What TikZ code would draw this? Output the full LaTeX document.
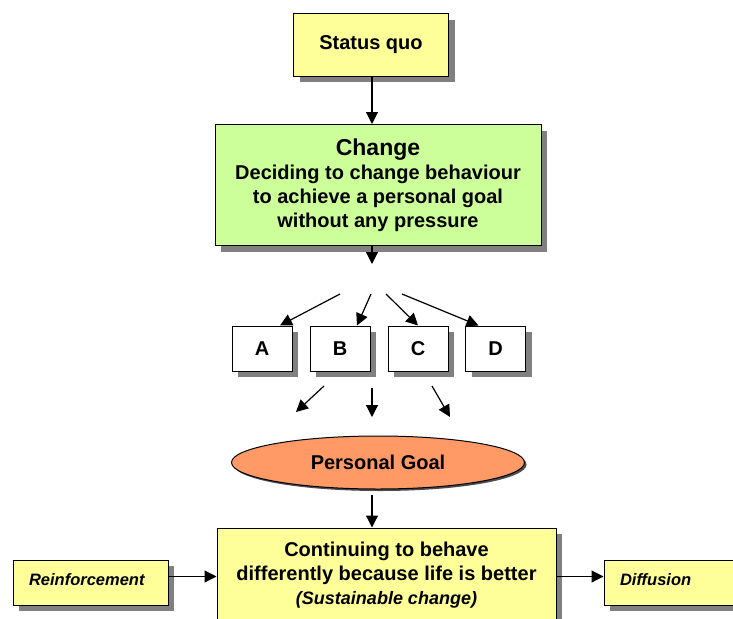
\documentclass[tikz,border=0pt]{standalone}
\usepackage{fontspec}
\setmainfont{Liberation Sans}
\usetikzlibrary{positioning, arrows.meta, calc, shapes.geometric, shadows}
\definecolor{QuoYellow}{HTML}{FFFF99}
\definecolor{ChangeGreen}{HTML}{CCFF99}
\definecolor{GoalOrange}{HTML}{FF9966}
\definecolor{ShadeGrey}{HTML}{808080}

\begin{document}
\begin{tikzpicture}[x=1pt, y=-1pt,
    stage/.style={draw=black, line width=1pt, fill=#1, inner sep=0pt, align=center,
      font=\bfseries\fontsize{20}{24}\selectfont,
      drop shadow={shadow xshift=6pt, shadow yshift=-6pt, fill=ShadeGrey, opacity=1}},
    option/.style={stage=white, minimum width=60pt, minimum height=45pt},
    side/.style={stage=QuoYellow, minimum width=155pt, minimum height=45pt,
      text width=123pt, align=left, font=\bfseries\itshape\fontsize{16.5}{18}\selectfont},
    flow/.style={line width=1.2pt, -{Triangle[length=12pt, width=12pt]}}
  ]
    \useasboundingbox (0,0) rectangle (733,618);

    \node[stage=QuoYellow, minimum width=155pt, minimum height=62pt](quo) at (371,45){Status quo};
    \node[stage=ChangeGreen, minimum width=326pt, minimum height=121pt](change) at (378,185)
      {{\fontsize{23}{26}\selectfont Change}\\Deciding to change behaviour\\to achieve a personal goal\\without any pressure};

    % the four ways
    \node[option](optA) at (262,348.5){A};
    \node[option](optB) at (340,348.5){B};
    \node[option](optC) at (418,348.5){C};
    \node[option](optD) at (495.5,348.5){D};

    \node[ellipse, draw=black, line width=1pt, fill=GoalOrange, minimum width=293pt, minimum height=53pt,
      font=\bfseries\fontsize{20}{24}\selectfont,
      drop shadow={shadow xshift=2pt, shadow yshift=-2pt, fill=black!70, opacity=1}](goal) at (378,462.5){Personal Goal};

    \node[stage=QuoYellow, minimum width=339pt, minimum height=94pt](keep) at (386.5,575)
      {Continuing to behave\\differently because life is better\\
       {\itshape\fontsize{18}{20}\selectfont (Sustainable change)}};
    \node[side](reinf) at (90.5,582.5){\raisebox{5pt}{Reinforcement}};
    \node[side](diff) at (681.5,582.5){\raisebox{5pt}{Diffusion}};

    % loose arrow ends
    \coordinate (chg out) at (372,264);
    \coordinate (fanA) at (340,294);
    \coordinate (fanB) at (371,294);
    \coordinate (fanC) at (386,294);
    \coordinate (fanD) at (402,294);
    \coordinate (outA) at (324,386);
    \coordinate (inA) at (296,412);
    \coordinate (outB) at (372,388);
    \coordinate (inB) at (372,417);
    \coordinate (outC) at (432,386);
    \coordinate (inC) at (450,417);
    \coordinate (goal out) at (372,495);

    \draw[flow] (quo.south -| 372,0) -- (change.north -| 372,0);
    \draw[flow] (change.south -| 372,0) -- (chg out);
    \draw[flow] (fanA) -- ($(optA.north)+(18,0)$);
    \draw[flow] (fanB) -- ($(optB.north)+(17,0)$);
    \draw[flow] (fanC) -- (optC.north);
    \draw[flow] (fanD) -- ($(optD.north)+(-17,0)$);
    \draw[flow] (outA) -- (inA);
    \draw[flow] (outB) -- (inB);
    \draw[flow] (outC) -- (inC);
    \draw[flow] (goal out) -- (keep.north -| goal out);
    \draw[flow] ($(reinf.east)+(0,-6)$) -- ($(reinf.east -| keep.west)+(0,-6)$);
    \draw[flow] ($(keep.east |- diff.west)+(0,-6)$) -- ($(diff.west)+(0,-6)$);
  \end{tikzpicture}
\end{document}
